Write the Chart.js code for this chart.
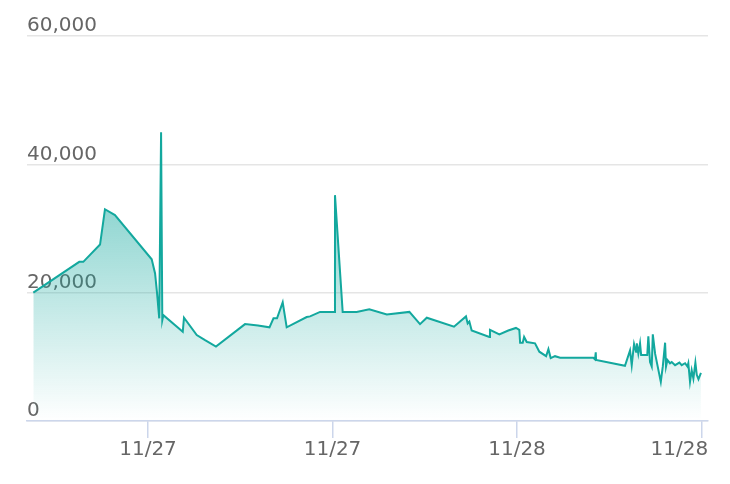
<!DOCTYPE html>
<html>
<head>
<meta charset="utf-8">
<script src="https://cdn.jsdelivr.net/npm/chart.js@4"></script>
<style>
  html, body { margin: 0; padding: 0; background: #fff; }
  #wrap { width: 730px; height: 484px; }
</style>
</head>
<body>
<div id="wrap"><canvas id="chart-area" width="730" height="484"></canvas></div>
<script>
// hours since 11/27 00:00
var hours = [-7.46, -4.47, -4.21, -3.12, -2.80, -2.15, 0.24, 0.46, 0.59, 0.73,
    0.85, 0.93, 1.00, 2.26, 2.34, 3.17, 3.71, 4.42, 6.31, 7.15,
    7.90, 8.16, 8.39, 8.76, 9.02, 10.32, 10.54, 11.19, 12.10, 12.16,
    12.66, 13.57, 14.39, 15.53, 17.00, 17.69, 18.13, 19.90, 20.68, 20.79,
    20.90, 21.05, 22.20, 22.24, 22.85, 23.43, 23.93, 24.15, 24.20, 24.37,
    24.46, 24.63, 25.17, 25.45, 25.89, 26.04, 26.19, 26.47, 26.80, 28.96,
    29.07, 29.12, 29.14, 31.02, 31.35, 31.46, 31.61, 31.74, 31.79, 31.89,
    32.00, 32.07, 32.47, 32.54, 32.65, 32.76, 32.83, 32.98, 33.35, 33.48,
    33.63, 33.69, 33.78, 33.95, 34.06, 34.28, 34.56, 34.71, 34.93, 35.08,
    35.14, 35.25, 35.36, 35.47, 35.60, 35.69, 35.80, 35.96];
var values = [20000, 24800, 24800, 27500, 33000, 32100, 25200, 23000, 19900, 16000,
    45000, 15700, 16500, 13900, 16100, 13400, 12600, 11600, 15100, 14900,
    14600, 16000, 16000, 18500, 14600, 16200, 16300, 17000, 17000, 35200,
    17000, 17000, 17400, 16600, 17000, 15100, 16100, 14700, 16300, 15200,
    15500, 14100, 13100, 14200, 13500, 14100, 14500, 14200, 12200, 12200,
    13100, 12300, 12100, 10800, 10100, 11200, 9800, 10100, 9850, 9850,
    9600, 10700, 9500, 8600, 11000, 8700, 12000, 10800, 12100, 10500,
    12100, 10300, 10300, 13200, 9200, 8500, 13500, 10500, 6100, 8500,
    12200, 8500, 9500, 9000, 9200, 8700, 9100, 8700, 9000, 8500,
    9000, 6100, 7900, 6600, 9100, 7200, 6500, 7500];
var xTicks = [0, 12, 24, 36];
var yTicks = [0, 20000, 40000, 60000];

var points = [];
for (var i = 0; i < hours.length; i++) {
    points.push({x: hours[i], y: values[i]});
}

function dayLabel(h) {
    var d = new Date(2018, 10, 27, 0, 0);
    d.setTime(d.getTime() + h * 3600 * 1000);
    return (d.getMonth() + 1) + "/" + d.getDate();
}

var font = {family: "'DejaVu Sans', sans-serif", size: 20};

var config = {
    type: 'line',
    data: {
        datasets: [{
            data: points,
            borderColor: '#13a89e',
            borderWidth: 2,
            pointRadius: 0,
            tension: 0,
            fill: 'origin',
            backgroundColor: function (ctx) {
                var area = ctx.chart.chartArea;
                if (!area) return 'rgba(19,168,158,0.5)';
                var g = ctx.chart.ctx.createLinearGradient(0, area.top, 0, area.bottom);
                g.addColorStop(0, 'rgba(19,168,158,0.85)');
                g.addColorStop(1, 'rgba(19,168,158,0)');
                return g;
            }
        }]
    },
    options: {
        responsive: false,
        animation: false,
        layout: {padding: {left: 27, right: 22, top: 36, bottom: 22}},
        plugins: {legend: {display: false}, tooltip: {enabled: false}},
        scales: {
            x: {
                type: 'linear',
                min: -7.87,
                max: 36.42,
                afterBuildTicks: function (axis) {
                    axis.ticks = xTicks.map(function (v) { return {value: v}; });
                },
                afterFit: function (axis) {
                    axis.paddingLeft = 0;
                    axis.paddingRight = 0;
                },
                grid: {drawOnChartArea: false, drawTicks: true, tickLength: 17, color: '#ccd6eb', lineWidth: 1.5},
                border: {color: '#ccd6eb', width: 1.5},
                ticks: {color: '#666', font: font, padding: 0, maxRotation: 0,
                    callback: function (v, i, t) {
                        // last label is pulled inside the plot edge
                        var s = dayLabel(v);
                        return i === t.length - 1 ? s + '\u00a0\u00a0\u00a0\u00a0\u00a0\u00a0\u00a0' : s;
                    }}
            },
            y: {
                min: 0,
                max: 60000,
                afterBuildTicks: function (axis) {
                    axis.ticks = yTicks.map(function (v) { return {value: v}; });
                },
                grid: {color: 'rgba(0,0,0,0.1)', lineWidth: 1.5, drawTicks: false},
                border: {display: false},
                ticks: {mirror: true, padding: 0, labelOffset: -10, color: '#666', font: font,
                    callback: function (v) { return v.toLocaleString('en-US'); }}
            }
        }
    }
};
var chart = new Chart(document.getElementById("chart-area").getContext("2d"), config);
</script>
</body>
</html>
